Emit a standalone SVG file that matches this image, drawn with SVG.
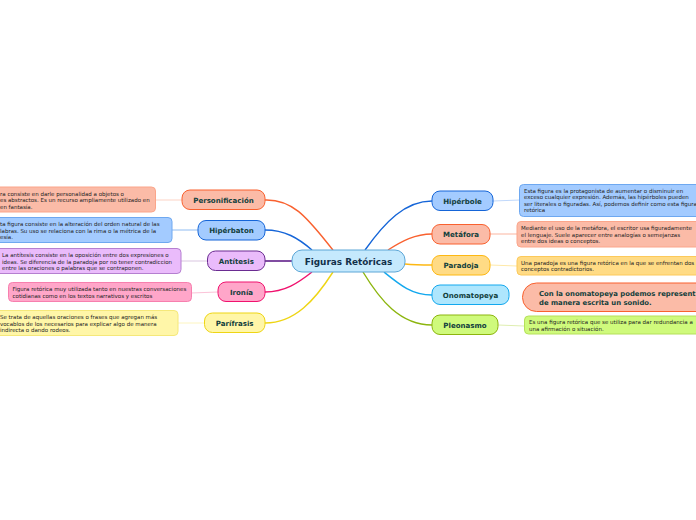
<svg xmlns="http://www.w3.org/2000/svg" width="696" height="520" viewBox="0 0 696 520">
<style>
text{font-family:"DejaVu Sans",Verdana,sans-serif;fill:#1a2a2a}
.t{font-size:7.05px;font-weight:700;fill:#12403c;text-anchor:middle}
.d{font-size:5.5px;fill:#222}
.c{fill:none;stroke-width:1.4}
.l{fill:none;stroke-width:1}
.n{stroke-width:1}
</style>
<rect width="696" height="520" fill="#fff"/>
<g id="connectors">
<path class="c" d="M333 250C310 222 295 199 265 200" stroke="#f9612f"/>
<path class="c" d="M312 250C298 238 285 230 265 230" stroke="#1565d8"/>
<path class="c" d="M292 261H265" stroke="#6a2c91" style="stroke-width:1.7"/>
<path class="c" d="M312 272C298 283 285 292 265 292" stroke="#f0126e"/>
<path class="c" d="M333 272C315 300 295 323 265 323" stroke="#eed514"/>
<path class="c" d="M365 250C385 222 405 201 432 201" stroke="#1565d8"/>
<path class="c" d="M388 250C402 241 415 234 432 234" stroke="#f9612f"/>
<path class="c" d="M405 264C415 265 422 265 432 265" stroke="#fdb813"/>
<path class="c" d="M384 272C400 285 412 295 432 295" stroke="#13a8ee"/>
<path class="c" d="M363 272C380 300 400 325 432 325" stroke="#8cb50e"/>
<path class="l" d="M182 200H155" stroke="#fcd3c5"/>
<path class="l" d="M198 230H172" stroke="#8fbcf2"/>
<path class="l" d="M207 261H181" stroke="#d9c5e0"/>
<path class="l" d="M218 292L191 293" stroke="#fbc3d8"/>
<path class="l" d="M204 323H178" stroke="#fdf5c0"/>
<path class="l" d="M493 201L520 200" stroke="#c0d8fb"/>
<path class="l" d="M490 234H517" stroke="#fbb5a0"/>
<path class="l" d="M490 265L517 266" stroke="#fee9a8"/>
<path class="l" d="M498 325L524 326" stroke="#dfeeb0"/>
</g>
<g id="center"><rect class="n" x="292" y="250" width="113" height="22" rx="10" fill="#c5e9fd" stroke="#5ca6d6"/><text x="348.500" y="264.500" text-anchor="middle" font-size="8.900" font-weight="700" style="fill:#12304a">Figuras Retóricas</text></g>
<g id="personificacion"><rect class="n" x="182" y="190" width="83" height="19.500" rx="8" fill="#fbbba7" stroke="#f9612f"/><text class="t" x="223.500" y="202.500">Personificación</text></g>
<g id="hiperbaton"><rect class="n" x="198" y="220.500" width="67" height="19.500" rx="8" fill="#a3cbff" stroke="#1565d8"/><text class="t" x="231.500" y="233">Hipérbaton</text></g>
<g id="antitesis"><rect class="n" x="207.500" y="251" width="57.500" height="19.500" rx="8" fill="#eabbfb" stroke="#6a2c91"/><text class="t" x="236.300" y="263.500">Antítesis</text></g>
<g id="ironia"><rect class="n" x="218" y="282" width="47" height="19.500" rx="8" fill="#ffa6c9" stroke="#f0126e"/><text class="t" x="241.500" y="294.500">Ironía</text></g>
<g id="parifrasis"><rect class="n" x="204.500" y="313" width="60.500" height="19.500" rx="8" fill="#fff6a8" stroke="#eed514"/><text class="t" x="234.700" y="325.500">Parífrasis</text></g>
<g id="hiperbole"><rect class="n" x="432" y="191" width="61" height="19.500" rx="8" fill="#a3cbff" stroke="#1565d8"/><text class="t" x="462.500" y="203.500">Hipérbole</text></g>
<g id="metafora"><rect class="n" x="432" y="224.500" width="58" height="19.500" rx="8" fill="#fbbba7" stroke="#f9612f"/><text class="t" x="461" y="237">Metáfora</text></g>
<g id="paradoja"><rect class="n" x="432" y="255.500" width="58" height="19.500" rx="8" fill="#ffdb85" stroke="#fdb813"/><text class="t" x="461" y="268">Paradoja</text></g>
<g id="onomatopeya"><rect class="n" x="432" y="285" width="77" height="19.500" rx="8" fill="#aee6fd" stroke="#13a8ee"/><text class="t" x="470.500" y="297.500">Onomatopeya</text></g>
<g id="pleonasmo"><rect class="n" x="432" y="315" width="66" height="19.500" rx="8" fill="#cffa7c" stroke="#8cb50e"/><text class="t" x="465" y="327.500">Pleonasmo</text></g>
<g id="d-personificacion"><rect x="-20" y="187" width="175.500" height="25" rx="4" fill="#fbbba7" stroke="#fba58a"/><text class="d"><tspan x="0" y="195.700">ra consiste en darle personalidad a objetos o</tspan><tspan x="0" y="202">es abstractos. Es un recurso ampliamente utilizado en</tspan><tspan x="0" y="208.500">en fantasía.</tspan></text></g>
<g id="d-hiperbaton"><rect x="-20" y="217.500" width="192" height="25" rx="4" fill="#a3cbff" stroke="#6ea8f0"/><text class="d"><tspan x="0" y="226">ta figura consiste en la alteración del orden natural de las</tspan><tspan x="0" y="232.500">labras. Su uso se relaciona con la rima o la métrica de la</tspan><tspan x="0" y="239">esía.</tspan></text></g>
<g id="d-antitesis"><rect x="-20" y="248.500" width="201" height="25" rx="4" fill="#eabbfb" stroke="#b57fd0"/><text class="d"><tspan x="2" y="257">La antítesis consiste en la oposición entre dos expresiones o</tspan><tspan x="2" y="263.500">ideas. Se diferencia de la paradoja por no tener contradiccion</tspan><tspan x="2" y="270">entre las oraciones o palabras que se contraponen.</tspan></text></g>
<g id="d-ironia"><rect x="8.500" y="282.500" width="183" height="19" rx="4" fill="#ffa6c9" stroke="#f77fae"/><text class="d"><tspan x="12.500" y="291">Figura retórica muy utilizada tanto en nuestras conversaciones</tspan><tspan x="12.500" y="298">cotidianas como en los textos narrativos y escritos</tspan></text></g>
<g id="d-parifrasis"><rect x="-20" y="310.500" width="198" height="25" rx="4" fill="#fff6a8" stroke="#f5e87a"/><text class="d"><tspan x="0" y="319">Se trata de aquellas oraciones o frases que agregan más</tspan><tspan x="0" y="325.500">vocablos de los necesarios para explicar algo de manera</tspan><tspan x="0" y="332">indirecta o dando rodeos.</tspan></text></g>
<g id="d-hiperbole"><rect x="519.500" y="184.500" width="196" height="32" rx="4" fill="#a3cbff" stroke="#6ea8f0"/><text class="d"><tspan x="524" y="192.500">Esta figura es la protagonista de aumentar o disminuir en</tspan><tspan x="524" y="199">exceso cualquier expresión. Además, las hipérboles pueden</tspan><tspan x="524" y="205.500">ser literales o figuradas. Así, podemos definir como esta figura</tspan><tspan x="524" y="212">retórica</tspan></text></g>
<g id="d-metafora"><rect x="517" y="221.500" width="196" height="25.500" rx="4" fill="#fbbba7" stroke="#fba58a"/><text class="d"><tspan x="521" y="230">Mediante el uso de la metáfora, el escritor usa figuradamente</tspan><tspan x="521" y="236.500">el lenguaje. Suele aparecer entre analogías o semejanzas</tspan><tspan x="521" y="243">entre dos ideas o conceptos.</tspan></text></g>
<g id="d-paradoja"><rect x="517" y="256.500" width="196" height="18.500" rx="4" fill="#ffdb85" stroke="#fcc95a"/><text class="d"><tspan x="521" y="264.500">Una paradoja es una figura retórica en la que se enfrentan dos</tspan><tspan x="521" y="271">conceptos contradictorios.</tspan></text></g>
<g id="d-onomatopeya"><rect x="522.500" y="283" width="196" height="28.500" rx="14" fill="#fbbba7" stroke="#f9612f"/><text font-size="6.850" font-weight="700" style="fill:#12403c"><tspan x="539" y="296">Con la onomatopeya podemos represent</tspan><tspan x="539" y="305">de manera escrita un sonido.</tspan></text></g>
<g id="d-pleonasmo"><rect x="524.500" y="316" width="190" height="18" rx="4" fill="#cffa7c" stroke="#b5e05a"/><text class="d"><tspan x="529" y="324">Es una figura retórica que se utiliza para dar redundancia a</tspan><tspan x="529" y="331">una afirmación o situación.</tspan></text></g>
</svg>
